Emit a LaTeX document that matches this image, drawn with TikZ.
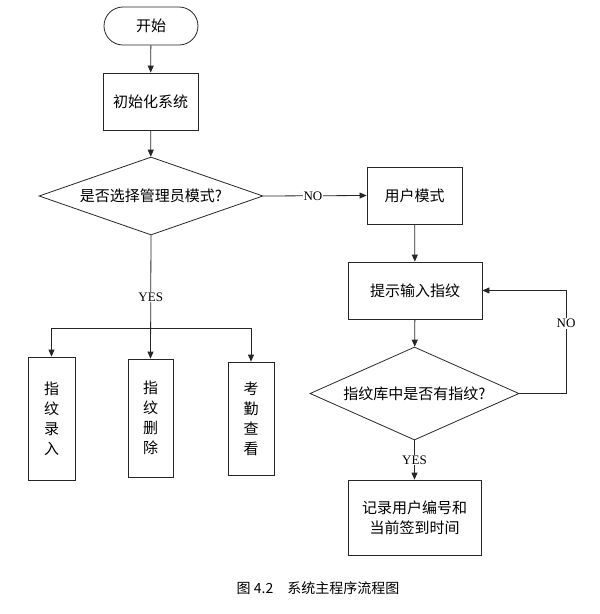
\documentclass[tikz,border=0pt]{standalone}
\usepackage{fontspec}
\setmainfont{Liberation Serif}
\newfontfamily\cjk{Noto Sans CJK SC}
\usetikzlibrary{arrows.meta, shapes.geometric}

\tikzset{
  flowline/.style={draw=black!85, line width=0.8pt},
  arrowline/.style={flowline, -{Triangle[length=7pt, width=6pt]}},
  procbox/.style={rectangle, draw=black!85, line width=0.8pt, inner sep=0pt,
                  font=\cjk\fontsize{15}{20}\selectfont, align=center},
  termbox/.style={procbox, rounded corners=19pt},
  decision/.style={diamond, draw=black!85, line width=0.8pt, inner sep=0pt,
                   aspect=2.6, font=\cjk\fontsize{15}{20}\selectfont},
  branchlabel/.style={fill=white, inner sep=1pt, font=\fontsize{13}{15}\selectfont}
}

\begin{document}
\begin{tikzpicture}[x=1pt, y=-1pt]
\useasboundingbox (0,0) rectangle (600,614);

% === Main column ===
\node[termbox, minimum width=94pt, minimum height=38pt] (start) at (151,26) {开始};
\node[procbox, minimum width=95pt, minimum height=57pt] (init) at (150.5,101.5) {初始化系统};
\node[decision, minimum width=224pt, minimum height=78pt] (mode) at (151,196) {是否选择管理员模式?};

% === Right side: user mode ===
\node[procbox, minimum width=95pt, minimum height=57pt] (user) at (414.5,195.5) {用户模式};
\node[procbox, minimum width=134pt, minimum height=57pt] (prompt) at (415,290.5) {提示输入指纹};
\node[decision, minimum width=209pt, minimum height=93pt] (check) at (414.5,393.5) {指纹库中是否有指纹?};
\node[procbox, minimum width=133pt, minimum height=75pt] (record) at (414.5,517.5) {记录用户编号和\\当前签到时间};
\coordinate (loop) at (566,393.5);

% === Left side: admin functions ===
\node[procbox, minimum width=47pt, minimum height=123pt] (enroll) at (51.5,418.5) {指\\纹\\录\\入};
\node[procbox, minimum width=45pt, minimum height=118pt] (delete) at (150.5,418) {指\\纹\\删\\除};
\node[procbox, minimum width=46pt, minimum height=113pt] (attend) at (251,418.5) {考\\勤\\查\\看};
\coordinate (split) at (151,328);

% Connectors
\draw[arrowline] (start) -- (init);
\draw[arrowline] (init) -- (mode);
\draw[arrowline] (mode.east) -- node[branchlabel, pos=0.48] {NO} (user.west);
\draw[arrowline] (user) -- (prompt);
\draw[arrowline] (prompt) -- (check);
\draw[arrowline] (check.south) -- node[branchlabel] {YES} (record.north);
\draw[arrowline] (check.east) -- (loop) |- node[branchlabel, pos=0.34] {NO} (prompt.east);

\draw[arrowline] (mode.south) -- node[branchlabel] {YES} (delete.north);
\draw[arrowline] (split) -| (enroll.north);
\draw[arrowline] (split) -| (attend.north);

% Caption
\node[font=\cjk\fontsize{14}{16}\selectfont] (caption) at (318,588) {图 4.2\quad 系统主程序流程图};

\end{tikzpicture}
\end{document}
